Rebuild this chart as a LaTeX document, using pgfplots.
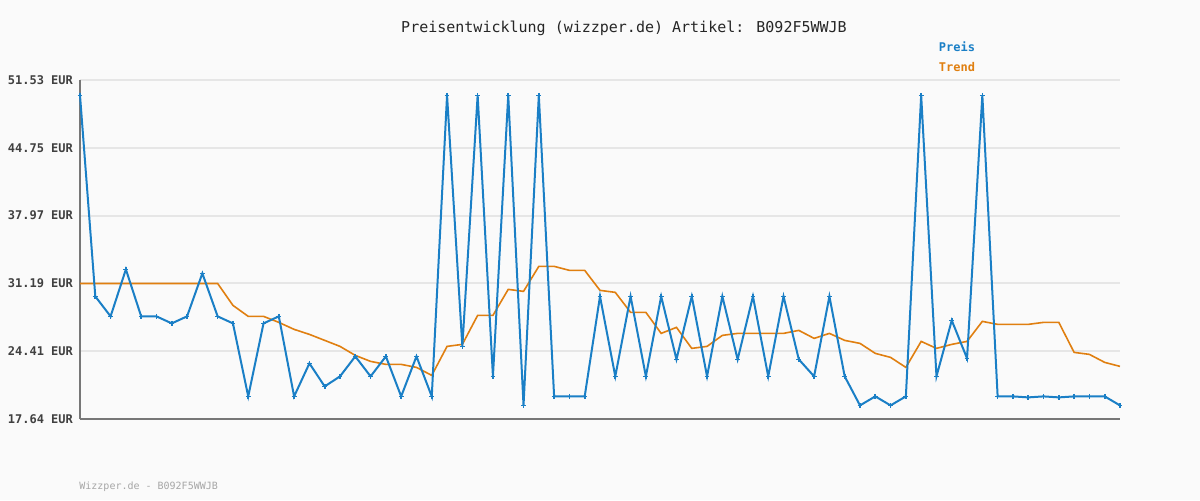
\documentclass[border=0pt]{standalone}
\usepackage{pgfplots}
\pgfplotsset{compat=1.18}
\usepackage{pgfplotstable}
\usepackage{fontspec}
\setmainfont{DejaVu Sans Mono}
\definecolor{bg}{HTML}{FAFAFA}
\definecolor{preis}{HTML}{1A7FC6}
\definecolor{trend}{HTML}{E07F10}
\definecolor{gridc}{HTML}{E6E6E6}
\definecolor{axc}{HTML}{777777}
\newlength\px
\setlength\px{0.5pt}

\pgfplotstableread{
x preis trend
0 50.0 31.19
1 29.9 31.19
2 27.9 31.19
3 32.6 31.19
4 27.9 31.19
5 27.9 31.19
6 27.2 31.19
7 27.9 31.19
8 32.2 31.19
9 27.9 31.19
10 27.2 29.0
11 19.9 27.9
12 27.2 27.9
13 27.9 27.3
14 19.9 26.6
15 23.2 26.1
16 20.9 25.5
17 21.9 24.9
18 23.9 24.0
19 21.9 23.4
20 23.9 23.1
21 19.9 23.1
22 23.9 22.8
23 19.9 22.0
24 50.0 24.9
25 24.9 25.1
26 50.0 28.0
27 21.9 28.0
28 50.0 30.6
29 19.0 30.4
30 50.0 32.9
31 19.9 32.9
32 19.9 32.5
33 19.9 32.5
34 29.9 30.5
35 21.9 30.3
36 29.9 28.3
37 21.9 28.3
38 29.9 26.2
39 23.6 26.8
40 29.9 24.7
41 21.9 24.9
42 29.9 26.0
43 23.6 26.2
44 29.9 26.2
45 21.9 26.2
46 29.9 26.2
47 23.6 26.5
48 21.9 25.7
49 29.9 26.2
50 21.9 25.5
51 19.0 25.2
52 19.9 24.2
53 19.0 23.8
54 19.9 22.8
55 50.0 25.4
56 21.9 24.7
57 27.5 25.1
58 23.7 25.4
59 50.0 27.4
60 19.9 27.1
61 19.9 27.1
62 19.8 27.1
63 19.9 27.3
64 19.8 27.3
65 19.9 24.3
66 19.9 24.1
67 19.9 23.3
68 19.0 22.9
}\data

\begin{document}
\begin{tikzpicture}
\fill[bg] (0,0) rectangle (1200\px,500\px);
\begin{axis}[
  at={(80\px,81\px)}, anchor=south west,
  scale only axis, width=1040\px, height=339\px,
  xmin=0, xmax=68, ymin=17.64, ymax=51.53,
  axis x line*=bottom, axis y line*=left,
  axis line style={axc, line width=1.3pt, -},
  xtick=\empty,
  ytick={17.64,24.41,31.19,37.97,44.75,51.53},
  yticklabels={17.64 EUR,24.41 EUR,31.19 EUR,37.97 EUR,44.75 EUR,51.53 EUR},
  yticklabel style={font=\fontsize{6}{7}\selectfont\bfseries, text=black!75},
  major tick length=0pt,
  ymajorgrids, grid style={gridc, line width=1pt},
  clip=false,
]
\addplot[trend, line width=0.8pt, no marks] table[x=x, y=trend] {\data};
\addplot[preis, line width=1pt, mark=+, mark size=1.2pt, mark options={line width=0.8pt}] table[x=x, y=preis] {\data};
\end{axis}
\node[font=\fontsize{7.5}{9}\selectfont, text=black!85] at (624\px,472\px) {Preisentwicklung (wizzper.de) Artikel: B092F5WWJB};
\node[font=\fontsize{6}{7}\selectfont\bfseries, text=preis] at (957\px,453\px) {Preis};
\node[font=\fontsize{6}{7}\selectfont\bfseries, text=trend] at (957\px,433\px) {Trend};
\node[font=\fontsize{5}{6}\selectfont, text=black!35, anchor=west, inner sep=0pt] at (79\px,13\px) {Wizzper.de - B092F5WWJB};
\end{tikzpicture}
\end{document}
